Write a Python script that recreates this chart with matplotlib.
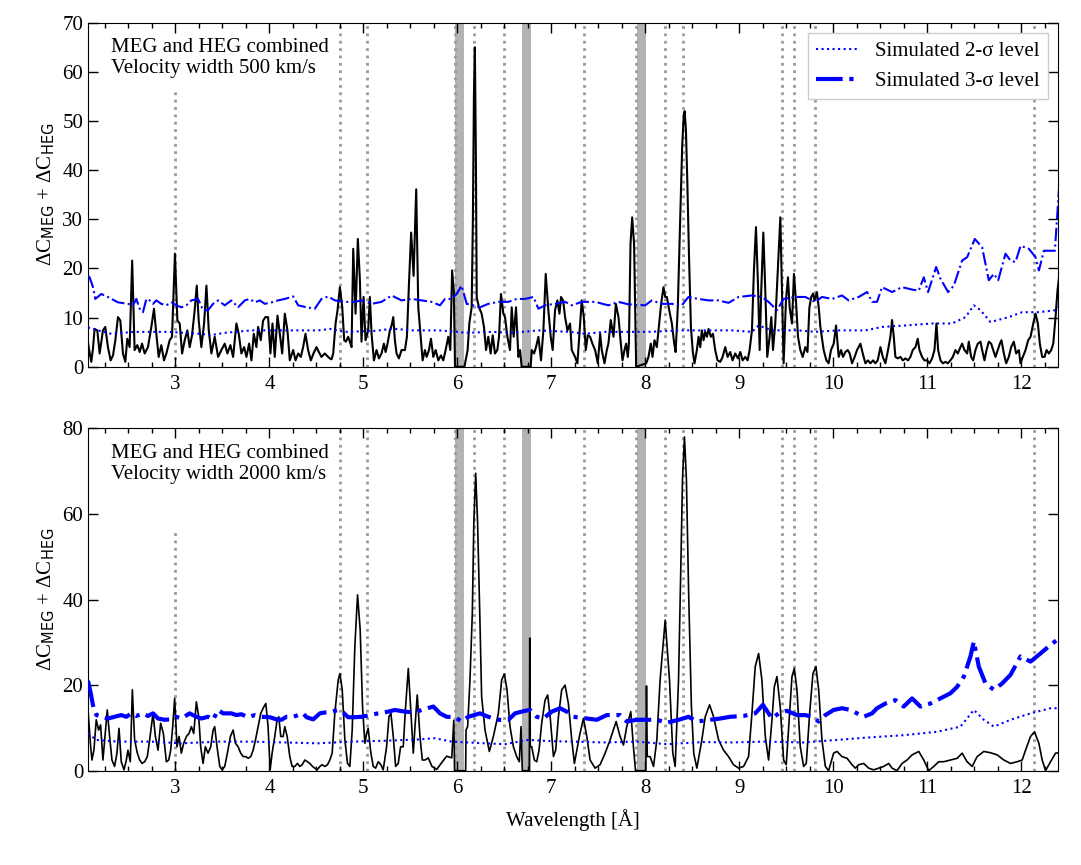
import matplotlib
matplotlib.use("Agg")
import matplotlib.pyplot as plt
from matplotlib.ticker import MultipleLocator

plt.rcParams['font.family'] = ['Liberation Serif', 'DejaVu Serif']
plt.rcParams['mathtext.fontset'] = 'dejavusans'

# ---------------- top panel: velocity width 500 km/s ----------------
wl_500 = [2.070, 2.077, 2.105, 2.123, 2.140, 2.169, 2.194, 2.229, 2.254, 2.282, 2.311, 2.336, 2.361, 2.389,
          2.414, 2.442, 2.467, 2.488, 2.513, 2.540, 2.566, 2.595, 2.620, 2.645, 2.673, 2.708, 2.744, 2.772,
          2.797, 2.822, 2.850, 2.879, 2.904, 2.939, 2.964, 2.995, 3.021, 3.046, 3.071, 3.099, 3.127, 3.152,
          3.177, 3.205, 3.227, 3.248, 3.276, 3.305, 3.330, 3.355, 3.383, 3.418, 3.454, 3.489, 3.525, 3.553,
          3.585, 3.614, 3.649, 3.674, 3.702, 3.731, 3.756, 3.784, 3.809, 3.834, 3.862, 3.880, 3.908, 3.933,
          3.958, 3.986, 4.011, 4.033, 4.057, 4.086, 4.111, 4.136, 4.164, 4.192, 4.217, 4.253, 4.278, 4.306,
          4.334, 4.359, 4.384, 4.412, 4.441, 4.469, 4.501, 4.526, 4.554, 4.590, 4.625, 4.643, 4.661, 4.679,
          4.704, 4.725, 4.750, 4.775, 4.796, 4.814, 4.838, 4.856, 4.874, 4.892, 4.917, 4.941, 4.963, 4.980,
          5.002, 5.023, 5.051, 5.069, 5.087, 5.112, 5.140, 5.165, 5.193, 5.218, 5.236, 5.257, 5.282, 5.300,
          5.318, 5.335, 5.353, 5.378, 5.406, 5.442, 5.463, 5.485, 5.508, 5.534, 5.562, 5.584, 5.609, 5.630,
          5.655, 5.673, 5.698, 5.719, 5.744, 5.769, 5.797, 5.825, 5.850, 5.875, 5.903, 5.925, 5.944, 5.962,
          5.975, 6.075, 6.081, 6.109, 6.127, 6.152, 6.165, 6.176, 6.186, 6.196, 6.206, 6.230, 6.258, 6.283,
          6.305, 6.329, 6.354, 6.376, 6.400, 6.425, 6.443, 6.464, 6.489, 6.507, 6.532, 6.560, 6.578, 6.599,
          6.624, 6.649, 6.667, 6.684, 6.780, 6.791, 6.816, 6.837, 6.862, 6.890, 6.915, 6.940, 6.968, 6.993,
          7.014, 7.039, 7.064, 7.086, 7.103, 7.125, 7.146, 7.171, 7.199, 7.217, 7.252, 7.277, 7.306, 7.323,
          7.345, 7.366, 7.387, 7.412, 7.437, 7.465, 7.494, 7.519, 7.536, 7.565, 7.590, 7.607, 7.632, 7.661,
          7.686, 7.714, 7.739, 7.757, 7.778, 7.796, 7.813, 7.825, 7.842, 7.860, 7.880, 7.902, 8.009, 8.033,
          8.058, 8.076, 8.097, 8.122, 8.147, 8.168, 8.193, 8.211, 8.229, 8.254, 8.282, 8.307, 8.322, 8.345,
          8.370, 8.392, 8.408, 8.418, 8.432, 8.446, 8.465, 8.485, 8.505, 8.523, 8.548, 8.566, 8.584, 8.601,
          8.619, 8.637, 8.655, 8.672, 8.697, 8.719, 8.743, 8.768, 8.797, 8.822, 8.850, 8.875, 8.903, 8.928,
          8.956, 8.985, 9.010, 9.035, 9.063, 9.088, 9.109, 9.134, 9.155, 9.177, 9.198, 9.216, 9.233, 9.255,
          9.276, 9.297, 9.322, 9.340, 9.358, 9.382, 9.411, 9.436, 9.453, 9.471, 9.496, 9.517, 9.535, 9.560,
          9.581, 9.602, 9.624, 9.649, 9.674, 9.702, 9.725, 9.745, 9.765, 9.785, 9.800, 9.825, 9.845, 9.862,
          9.897, 9.926, 9.950, 9.975, 10.004, 10.029, 10.057, 10.082, 10.103, 10.128, 10.153, 10.174, 10.199,
          10.227, 10.252, 10.288, 10.313, 10.341, 10.369, 10.394, 10.423, 10.447, 10.472, 10.501, 10.526,
          10.554, 10.582, 10.607, 10.625, 10.643, 10.660, 10.685, 10.714, 10.739, 10.767, 10.795, 10.820,
          10.845, 10.874, 10.898, 10.916, 10.944, 10.969, 10.998, 11.023, 11.051, 11.076, 11.097, 11.115,
          11.140, 11.165, 11.193, 11.218, 11.246, 11.271, 11.299, 11.324, 11.353, 11.370, 11.395, 11.424,
          11.441, 11.466, 11.488, 11.512, 11.537, 11.566, 11.583, 11.608, 11.630, 11.654, 11.679, 11.701,
          11.725, 11.750, 11.772, 11.789, 11.814, 11.839, 11.867, 11.892, 11.920, 11.945, 11.974, 11.991,
          12.016, 12.045, 12.073, 12.098, 12.127, 12.151, 12.176, 12.197, 12.222, 12.247, 12.269, 12.293,
          12.318, 12.340, 12.364, 12.385, 12.400]
dc_500 = [5.0, 4.0, 1.0, 3.7, 7.7, 7.4, 2.7, 7.4, 8.1, 4.0, 1.3, 2.3, 5.4, 10.1,
          9.4, 2.7, 1.0, 5.7, 4.0, 21.6, 3.4, 4.4, 3.0, 4.7, 2.7, 4.0, 8.1, 11.8,
          6.7, 2.0, 4.4, 1.3, 2.7, 5.4, 6.1, 23.0, 9.4, 8.8, 2.7, 5.4, 7.4, 4.0,
          6.4, 11.5, 16.5, 9.4, 4.0, 8.8, 16.5, 7.4, 2.7, 6.1, 2.0, 3.4, 4.7, 2.7,
          4.4, 2.0, 8.8, 6.7, 2.7, 4.0, 2.0, 4.7, 1.3, 6.7, 4.0, 8.1, 5.4, 9.4,
          10.1, 10.1, 2.7, 8.8, 2.0, 10.4, 6.7, 2.7, 10.8, 7.4, 1.3, 3.4, 1.3, 2.7,
          2.0, 4.0, 6.7, 3.4, 1.3, 2.7, 4.0, 3.0, 2.0, 2.7, 2.0, 1.7, 1.5, 2.7,
          8.8, 11.5, 16.2, 12.1, 5.4, 5.1, 6.1, 5.1, 4.0, 24.0, 10.8, 26.0, 17.6, 5.1,
          14.2, 5.4, 7.4, 14.2, 6.7, 1.3, 3.4, 1.7, 2.7, 4.7, 3.0, 4.7, 7.4, 8.4,
          10.1, 5.4, 2.7, 1.7, 3.4, 3.4, 6.1, 16.9, 27.3, 18.5, 36.1, 12.1, 6.1, 1.3,
          3.4, 2.0, 3.4, 5.7, 2.0, 3.4, 1.3, 2.3, 1.3, 3.4, 6.1, 3.4, 19.6, 15.5,
          0.0, 0.0, 0.6, 3.4, 8.8, 12.1, 30.0, 55.0, 65.0, 45.0, 14.0, 12.1, 10.8, 8.1,
          3.4, 6.1, 2.7, 6.4, 2.7, 3.4, 6.1, 14.8, 10.8, 10.1, 6.1, 3.4, 12.1, 6.1,
          12.1, 2.0, 3.4, 0.0, 0.0, 3.4, 2.7, 4.0, 6.1, 1.3, 7.4, 18.9, 11.5, 6.1,
          3.4, 11.5, 13.5, 10.8, 14.2, 13.5, 10.1, 7.4, 8.8, 3.4, 2.0, 0.7, 8.8, 13.5,
          10.1, 3.4, 6.4, 6.1, 4.7, 3.4, 0.7, 6.7, 3.4, 0.7, 3.4, 4.7, 9.5, 6.1,
          12.8, 10.1, 4.7, 1.3, 3.4, 4.7, 2.0, 4.7, 25.0, 30.4, 25.0, 0.0, 0.7, 2.0,
          4.7, 2.0, 5.4, 4.0, 8.8, 12.8, 16.2, 14.2, 14.2, 11.5, 8.8, 4.7, 3.0, 12.0,
          30.0, 45.0, 51.0, 52.0, 48.0, 38.0, 22.0, 8.0, 3.0, 0.7, 3.4, 6.1, 4.0, 7.4,
          5.4, 7.1, 6.1, 7.7, 6.1, 6.7, 3.4, 1.3, 1.0, 2.0, 4.0, 2.0, 3.0, 1.3,
          2.7, 1.7, 3.0, 1.3, 2.0, 1.3, 3.4, 7.4, 19.6, 28.4, 16.9, 3.4, 15.5, 27.3,
          15.5, 2.0, 6.1, 10.1, 3.4, 8.8, 20.3, 30.4, 15.5, 0.7, 13.5, 18.2, 12.1, 8.8,
          18.9, 13.5, 6.1, 3.4, 2.0, 4.0, 3.0, 12.0, 14.2, 14.9, 13.5, 15.2, 12.0, 8.1,
          3.4, 1.3, 0.7, 3.4, 4.7, 8.4, 2.0, 3.4, 2.0, 3.0, 3.4, 2.7, 0.7,
          2.0, 3.4, 4.7, 2.7, 0.7, 1.3, 0.7, 1.3, 0.7, 1.3, 4.0, 2.0,
          0.7, 3.4, 6.1, 9.5, 6.1, 2.0, 1.7, 2.0, 1.3, 1.7, 1.3, 2.0,
          3.4, 4.0, 5.7, 3.4, 2.0, 1.3, 1.3, 0.7, 1.7, 3.4, 8.8, 3.4,
          1.3, 0.7, 1.0, 0.7, 1.3, 2.0, 3.4, 2.7, 4.0, 4.7, 3.4, 2.7,
          5.1, 2.0, 1.3, 3.4, 4.7, 5.1, 3.4, 1.3, 3.4, 5.1, 4.7, 3.4,
          2.0, 3.4, 4.7, 5.4, 2.7, 0.7, 2.0, 4.0, 5.1, 2.7, 3.4, 0.7,
          2.0, 3.4, 5.4, 6.1, 8.8, 10.8, 8.8, 4.7, 2.0, 2.0, 3.4, 2.7,
          3.4, 4.7, 10.1, 15.5, 18.0]

wl_3s_500 = [2.070, 2.087, 2.123, 2.148, 2.211, 2.282, 2.389, 2.495, 2.549, 2.584, 2.620, 2.655, 2.691,
             2.726, 2.762, 2.797, 2.850, 2.904, 2.957, 3.010, 3.063, 3.117, 3.170, 3.241, 3.294, 3.347,
             3.401, 3.454, 3.525, 3.596, 3.667, 3.738, 3.791, 3.844, 3.898, 3.951, 4.022, 4.093, 4.164,
             4.253, 4.306, 4.395, 4.483, 4.554, 4.625, 4.697, 4.803, 4.909, 4.980, 5.087, 5.193, 5.300,
             5.406, 5.513, 5.619, 5.726, 5.815, 5.868, 5.939, 5.992, 6.045, 6.099, 6.170, 6.241, 6.329,
             6.436, 6.542, 6.631, 6.720, 6.809, 6.862, 6.933, 7.039, 7.146, 7.217, 7.323, 7.465, 7.607,
             7.714, 7.820, 7.998, 8.069, 8.175, 8.282, 8.388, 8.459, 8.566, 8.672, 8.779, 8.885, 8.992,
             9.134, 9.240, 9.311, 9.400, 9.471, 9.595, 9.702, 9.808, 9.879, 9.986, 10.092, 10.163,
             10.270, 10.359, 10.412, 10.465, 10.518, 10.625, 10.731, 10.838, 10.909, 10.962, 11.008,
             11.094, 11.140, 11.221, 11.282, 11.370, 11.424, 11.505, 11.583, 11.654, 11.708, 11.754,
             11.832, 11.885, 11.938, 11.992, 12.080, 12.151, 12.187, 12.240, 12.311, 12.357, 12.400]
s3_500 = [18.5, 18.2, 16.2, 13.8, 14.8, 14.2, 13.1, 12.8, 12.5, 13.8, 11.8, 11.1, 13.8,
          13.5, 12.8, 13.5, 12.8, 12.5, 13.1, 12.5, 12.1, 12.5, 13.5, 13.8, 11.5, 11.5,
          12.8, 13.5, 12.5, 13.5, 12.1, 13.5, 13.8, 13.1, 13.5, 12.8, 13.1, 13.5, 13.8,
          14.3, 12.5, 12.1, 11.8, 13.8, 14.3, 13.5, 13.2, 13.2, 13.5, 12.8, 13.2, 14.5,
          13.5, 13.8, 13.5, 13.2, 12.5, 13.8, 13.8, 14.8, 16.5, 12.8, 12.5, 12.1, 12.8,
          13.2, 13.2, 13.8, 13.8, 14.2, 11.8, 12.5, 12.8, 13.2, 12.5, 13.2, 13.2, 12.5,
          13.2, 12.7, 12.5, 13.5, 12.8, 12.8, 12.5, 14.2, 13.8, 13.5, 13.5, 13.0, 14.2,
          14.5, 14.2, 13.2, 11.5, 13.8, 14.2, 14.2, 13.2, 14.2, 13.8, 14.5, 13.5,
          14.2, 15.2, 13.2, 13.2, 16.2, 15.2, 16.2, 15.7, 15.5, 18.2, 15.2,
          20.3, 17.9, 15.2, 16.5, 21.6, 22.3, 26.0, 24.3, 17.6, 18.9, 17.6,
          23.0, 21.6, 21.3, 24.6, 24.0, 22.3, 19.6, 23.6, 23.6, 23.6, 36.0]

wl_2s_500 = [2.070, 2.087, 2.176, 2.318, 2.566, 2.921, 3.276, 3.365, 3.525, 3.809, 4.022, 4.306, 4.519,
             4.643, 4.803, 5.122, 5.318, 5.513, 5.797, 6.010, 6.081, 6.365, 6.578, 6.862, 7.199, 7.359,
             7.572, 8.033, 8.388, 8.743, 8.921, 9.134, 9.205, 9.347, 9.631, 9.808, 10.057, 10.341,
             10.518, 10.767, 11.051, 11.264, 11.406, 11.495, 11.566, 11.672, 11.867, 12.009, 12.187,
             12.364, 12.400]
s2_500 = [8.0, 7.9, 7.4, 6.7, 7.1, 7.1, 6.7, 6.4, 6.9, 7.4, 7.4, 7.4, 7.4,
          7.7, 7.1, 7.3, 7.75, 7.4, 7.4, 7.1, 6.9, 7.1, 6.9, 7.4, 7.1, 6.7,
          7.1, 7.1, 7.4, 7.4, 7.4, 7.1, 8.4, 7.4, 7.4, 7.1, 7.4, 7.4,
          8.1, 8.4, 8.8, 8.8, 10.1, 12.5, 11.5, 9.1, 10.1, 11.1, 11.1,
          11.5, 12.3]

# ---------------- bottom panel: velocity width 2000 km/s ----------------
wl_2000 = [2.070, 2.097, 2.112, 2.133, 2.158, 2.183, 2.204, 2.229, 2.254, 2.275, 2.300, 2.325, 2.353,
           2.378, 2.400, 2.424, 2.453, 2.478, 2.495, 2.520, 2.542, 2.566, 2.595, 2.620, 2.645, 2.673,
           2.701, 2.726, 2.762, 2.787, 2.815, 2.843, 2.872, 2.904, 2.929, 2.950, 2.971, 2.992, 3.017,
           3.039, 3.063, 3.088, 3.117, 3.145, 3.170, 3.195, 3.223, 3.248, 3.269, 3.294, 3.319, 3.347,
           3.376, 3.401, 3.418, 3.443, 3.472, 3.497, 3.525, 3.553, 3.585, 3.614, 3.639, 3.667, 3.695,
           3.720, 3.749, 3.774, 3.802, 3.827, 3.852, 3.880, 3.908, 3.940, 3.962, 3.986, 4.008, 4.029,
           4.057, 4.082, 4.100, 4.121, 4.146, 4.164, 4.189, 4.217, 4.242, 4.270, 4.299, 4.324, 4.349,
           4.377, 4.405, 4.430, 4.459, 4.483, 4.508, 4.537, 4.561, 4.590, 4.618, 4.643, 4.668, 4.696,
           4.732, 4.750, 4.775, 4.803, 4.831, 4.856, 4.881, 4.909, 4.938, 4.966, 4.991, 5.016, 5.034,
           5.051, 5.080, 5.105, 5.130, 5.158, 5.186, 5.211, 5.247, 5.272, 5.293, 5.318, 5.343, 5.371,
           5.396, 5.424, 5.449, 5.478, 5.502, 5.531, 5.549, 5.573, 5.602, 5.627, 5.655, 5.690, 5.730,
           5.780, 5.830, 5.886, 5.940, 5.962, 5.970, 6.088, 6.092, 6.109, 6.134, 6.159, 6.175, 6.195,
           6.215, 6.240, 6.258, 6.294, 6.340, 6.383, 6.436, 6.471, 6.500, 6.528, 6.560, 6.596, 6.631,
           6.659, 6.677, 6.691, 6.765, 6.770, 6.776, 6.791, 6.819, 6.844, 6.869, 6.897, 6.933, 6.961,
           6.990, 7.022, 7.046, 7.075, 7.110, 7.146, 7.181, 7.217, 7.245, 7.298, 7.341, 7.377, 7.412,
           7.465, 7.518, 7.572, 7.625, 7.689, 7.731, 7.767, 7.802, 7.845, 7.873, 7.895, 8.005, 8.012,
           8.020, 8.051, 8.087, 8.122, 8.157, 8.211, 8.257, 8.292, 8.317, 8.353, 8.375, 8.395, 8.416,
           8.437, 8.460, 8.490, 8.515, 8.548, 8.601, 8.637, 8.683, 8.726, 8.779, 8.832, 8.885, 8.938,
           8.992, 9.045, 9.098, 9.134, 9.169, 9.205, 9.240, 9.276, 9.311, 9.347, 9.372, 9.400, 9.435,
           9.471, 9.499, 9.535, 9.560, 9.585, 9.613, 9.648, 9.684, 9.712, 9.748, 9.783, 9.815, 9.844,
           9.879, 9.915, 9.950, 10.003, 10.039, 10.092, 10.146, 10.199, 10.234, 10.270, 10.323, 10.376,
           10.429, 10.483, 10.536, 10.589, 10.625, 10.678, 10.731, 10.784, 10.838, 10.909, 10.962,
           11.015, 11.068, 11.122, 11.175, 11.246, 11.317, 11.370, 11.423, 11.477, 11.530, 11.601,
           11.672, 11.743, 11.814, 11.885, 11.956, 12.009, 12.045, 12.098, 12.140, 12.187, 12.222,
           12.258, 12.311, 12.364, 12.400]
dc_2000 = [14.2, 6.0, 2.5, 4.8, 11.9, 9.5, 10.7, 2.5, 8.7, 14.2, 8.0, 2.5, 1.0,
           4.1, 9.9, 2.1, 0.2, 2.5, 4.8, 2.1, 18.9, 7.2, 4.1, 2.5, 1.7, 2.1,
           3.3, 7.2, 13.4, 8.0, 4.8, 11.1, 8.7, 2.1, 2.5, 4.8, 10.3, 16.9, 5.6,
           8.0, 4.1, 6.4, 8.0, 8.7, 10.3, 8.7, 16.1, 12.6, 5.6, 1.7, 5.6, 4.1,
           5.6, 9.5, 10.3, 5.6, 1.0, 0.2, 1.0, 4.1, 8.0, 9.5, 6.4, 5.6, 4.1,
           3.3, 3.3, 2.9, 3.3, 4.8, 7.2, 10.3, 13.4, 14.9, 15.7, 10.3, 0.2, 4.1,
           8.0, 11.9, 12.6, 8.0, 8.0, 10.3, 8.0, 3.3, 1.0, 1.0, 1.7, 1.0, 1.4,
           2.5, 2.1, 1.7, 1.0, 0.6, 0.2, 1.0, 1.4, 1.0, 1.4, 2.5, 4.1, 13.4,
           21.2, 22.7, 18.9, 7.2, 1.7, 1.0, 9.5, 29.0, 41.1, 32.9, 14.9, 6.4, 8.7,
           9.9, 4.1, 1.0, 0.6, 2.1, 1.4, 0.2, 5.6, 12.6, 13.4, 8.0, 1.0, 1.7,
           5.6, 5.6, 14.9, 23.9, 14.9, 4.1, 10.3, 17.7, 8.0, 2.5, 2.5, 3.0, 1.0,
           0.3, 1.8, 3.4, 3.0, 11.8, 0.0, 0.0, 9.5, 10.3, 21.2, 36.8, 58.0, 69.5,
           58.0, 35.0, 17.3, 9.5, 4.5, 8.0, 13.4, 21.2, 22.6, 18.9, 10.3, 5.6, 3.3,
           2.1, 10.3, 0.0, 0.0, 31.0, 5.6, 5.6, 2.5, 2.1, 4.8, 11.1, 16.5, 17.7,
           11.9, 3.3, 4.8, 12.6, 18.9, 20.0, 15.7, 7.2, 1.7, 8.0, 12.2, 8.0, 2.5,
           0.6, 1.4, 4.1, 7.2, 11.5, 8.0, 6.0, 10.3, 13.8, 5.6, 0.0, 0.0, 19.8,
           3.3, 3.3, 1.0, 7.2, 21.2, 35.2, 21.2, 4.1, 1.0, 21.2, 45.0, 68.0, 78.0,
           68.0, 42.0, 15.0, 4.0, 0.6, 7.2, 12.6, 15.4, 12.6, 7.2, 4.8, 3.3, 1.4,
           0.6, 1.0, 3.3, 13.4, 24.3, 27.4, 21.2, 8.0, 2.5, 11.9, 19.6, 22.0, 14.9,
           2.5, 1.4, 13.4, 22.0, 23.9, 18.9, 5.6, 1.0, 1.7, 13.4, 22.7, 24.3, 18.9,
           7.2, 1.0, 0.0, 4.1, 4.5, 3.3, 2.9, 1.4, 0.6, 1.4, 1.7, 0.6,
           0.2, 0.6, 1.0, 1.7, 0.6, 0.0, 1.7, 2.5, 3.7, 4.5, 2.5,
           0.0, 1.0, 2.1, 2.1, 2.5, 2.9, 4.1, 2.1, 1.0, 3.3, 4.5,
           4.2, 3.7, 2.5, 1.7, 2.1, 2.5, 4.8, 8.0, 9.1, 6.4, 2.5,
           0.0, 2.1, 4.1, 4.2]

wl_3s_2000 = [2.070, 2.100, 2.130, 2.160, 2.211, 2.282, 2.353, 2.424, 2.478, 2.531, 2.584, 2.655, 2.708,
              2.762, 2.815, 2.886, 2.957, 3.010, 3.063, 3.152, 3.223, 3.276, 3.347, 3.401, 3.454, 3.507,
              3.596, 3.649, 3.702, 3.773, 3.844, 3.915, 4.004, 4.075, 4.128, 4.182, 4.253, 4.306, 4.359,
              4.395, 4.466, 4.537, 4.590, 4.661, 4.732, 4.785, 4.838, 4.909, 4.980, 5.069, 5.158, 5.264,
              5.335, 5.442, 5.548, 5.619, 5.744, 5.815, 5.886, 5.975, 6.045, 6.116, 6.241, 6.329, 6.436,
              6.543, 6.613, 6.720, 6.773, 6.844, 6.915, 7.004, 7.093, 7.181, 7.234, 7.305, 7.483, 7.590,
              7.731, 7.802, 7.909, 8.122, 8.228, 8.370, 8.459, 8.548, 8.690, 8.797, 8.903, 9.045, 9.169,
              9.251, 9.347, 9.418, 9.506, 9.613, 9.702, 9.773, 9.844, 9.915, 10.003, 10.092, 10.181,
              10.252, 10.323, 10.412, 10.465, 10.554, 10.660, 10.749, 10.838, 10.926, 11.033, 11.140,
              11.246, 11.317, 11.388, 11.459, 11.495, 11.548, 11.619, 11.708, 11.796, 11.885, 11.991,
              12.098, 12.204, 12.311, 12.400]
s3_2000 = [21.0, 18.0, 14.5, 13.0, 12.6, 12.2, 12.6, 13.0, 12.6, 13.4, 12.8, 13.4, 12.8,
           13.4, 12.2, 11.9, 12.0, 12.6, 12.2, 13.4, 12.6, 12.2, 12.6, 11.9, 14.2, 13.4,
           13.4, 13.0, 13.2, 12.5, 13.0, 12.6, 12.5, 12.0, 11.9, 12.6, 12.6, 13.0, 13.4,
           12.5, 12.0, 13.4, 13.6, 13.8, 14.2, 13.6, 12.5, 12.5, 12.6, 13.0, 13.4, 13.8,
           14.2, 13.8, 13.6, 14.2, 15.0, 13.4, 12.6, 12.5, 11.5, 12.6, 13.4, 12.6, 11.9,
           11.9, 13.4, 14.0, 14.2, 12.6, 12.2, 13.8, 14.6, 13.6, 12.6, 12.4, 11.9, 13.0,
           13.0, 11.5, 11.9, 11.9, 11.2, 12.0, 12.6, 11.5, 11.9, 12.2, 12.6, 12.8, 13.4,
           15.4, 12.2, 13.4, 14.0, 13.0, 13.0, 12.6, 11.5, 13.0, 14.2, 14.6, 14.2,
           13.4, 12.6, 13.4, 14.6, 15.7, 16.5, 15.0, 16.9, 15.0, 15.7, 16.9,
           18.1, 19.6, 22.0, 26.7, 30.2, 24.3, 20.4, 18.9, 20.4, 22.4, 26.7,
           25.5, 27.4, 29.4, 30.9]

wl_2s_2000 = [2.070, 2.158, 2.389, 2.744, 3.063, 3.454, 3.809, 4.164, 4.519, 4.874, 5.229, 5.584, 5.762,
              5.939, 6.294, 6.507, 6.755, 7.004, 7.234, 7.554, 7.909, 8.228, 8.619, 8.903, 9.258, 9.684,
              10.039, 10.394, 10.749, 11.104, 11.352, 11.495, 11.601, 11.708, 11.885, 12.098, 12.311,
              12.400]
s2_2000 = [8.7, 7.2, 6.8, 6.8, 6.4, 6.8, 6.8, 6.6, 6.4, 6.8, 7.0, 7.3, 7.6,
           6.8, 6.4, 6.2, 7.2, 6.9, 6.8, 6.6, 6.8, 6.2, 6.7, 6.6, 6.8, 6.6,
           7.2, 7.8, 8.3, 9.1, 10.3, 14.2, 11.9, 10.3, 11.9, 13.4, 14.6,
           14.6]

# line positions and masked bands
line_wl = [4.75, 5.04, 5.97, 6.18, 6.50, 7.35, 7.90, 8.21, 8.40, 9.45, 9.58, 9.80, 12.14]
short_line_wl = 3.0
short_line_top = 56.5
bands = [(5.975, 6.072), (6.69, 6.78), (7.91, 8.005)]

FS = 15

fig = plt.figure(figsize=(10.81, 8.65), dpi=100)
ax1 = fig.add_axes([0.0814, 0.576, 0.8973, 0.3978])
ax2 = fig.add_axes([0.0814, 0.109, 0.8973, 0.3958])

panels = [
    (ax1, wl_500, dc_500, wl_2s_500, s2_500, wl_3s_500, s3_500, 70, 10, 1.5, 1.5,
     'MEG and HEG combined\nVelocity width 500 km/s'),
    (ax2, wl_2000, dc_2000, wl_2s_2000, s2_2000, wl_3s_2000, s3_2000, 80, 20, 1.2, 3.0,
     'MEG and HEG combined\nVelocity width 2000 km/s'),
]

for ax, wl, dc, w2, s2, w3, s3, ytop, ystep, lw_dc, lw3, txt in panels:
    for lo, hi in bands:
        ax.axvspan(lo, hi, color='0.7', lw=0, zorder=1)
    for w in line_wl:
        ax.axvline(w, color='0.6', ls=':', lw=2, zorder=1.5)
    ax.vlines(short_line_wl, 0, short_line_top, color='0.6', ls=':', lw=2, zorder=1.5)
    ax.plot(wl, dc, color='black', lw=lw_dc, zorder=3)
    l2, = ax.plot(w2, s2, color='blue', ls=':', lw=1.5, zorder=4, label='Simulated 2-σ level')
    l3, = ax.plot(w3, s3, color='blue', ls='-.', lw=lw3, zorder=4, label='Simulated 3-σ level')
    ax.set_xlim(2.07, 12.39)
    ax.set_ylim(0, ytop)
    ax.xaxis.set_major_locator(MultipleLocator(1))
    ax.xaxis.set_minor_locator(MultipleLocator(0.25))
    ax.yaxis.set_major_locator(MultipleLocator(ystep))
    ax.tick_params(which='both', direction='in', top=True, right=True, labelsize=FS)
    ax.tick_params(which='major', length=7, width=1)
    ax.tick_params(which='minor', length=3.5, width=1)
    ax.tick_params(axis='x', which='major', pad=6)
    ax.set_ylabel('ΔC$_{\\mathsf{MEG}}$ + ΔC$_{\\mathsf{HEG}}$', fontsize=FS)
    ax.text(0.024, 0.955, txt, transform=ax.transAxes, ha='left', va='top', fontsize=FS,
            linespacing=1.15)

ax1.legend(handles=[l2, l3], loc='upper right', fontsize=FS, fancybox=False,
           edgecolor='0.8', framealpha=1, handlelength=2.0)
ax2.set_xlabel('Wavelength [Å]', fontsize=FS, labelpad=8)

fig.savefig('out.png', dpi=100)
